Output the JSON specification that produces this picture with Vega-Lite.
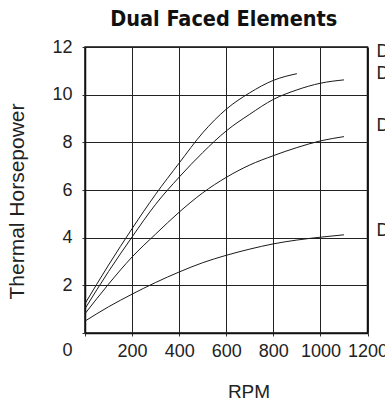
{
  "$schema": "https://vega.github.io/schema/vega-lite/v6.json",
  "autosize": {"type": "none"},
  "padding": {"left": 85, "top": 47, "right": 17.5, "bottom": 65},
  "width": 282.5,
  "height": 286,
  "background": "white",
  "title": {
    "text": "Dual Faced Elements",
    "font": "DejaVu Sans Condensed",
    "fontWeight": "bold",
    "fontSize": 21.5,
    "color": "#111",
    "anchor": "middle",
    "frame": "group",
    "offset": 8,
    "dx": -2.5
  },
  "config": {
    "view": {"stroke": "#111", "strokeWidth": 1.5},
    "axis": {
      "labelFont": "Liberation Sans",
      "titleFont": "Liberation Sans",
      "labelColor": "#222",
      "titleColor": "#222",
      "titleFontWeight": "normal",
      "domainColor": "#111",
      "domainWidth": 1.5,
      "tickColor": "#333",
      "tickSize": 3,
      "gridColor": "#222",
      "gridWidth": 1,
      "labelFlush": false,
      "labelOverlap": false
    }
  },
  "datasets": {
    "curves": [
      {"rpm": 0, "hp": 1.23, "series": "DF-A"},
      {"rpm": 100, "hp": 2.85, "series": "DF-A"},
      {"rpm": 200, "hp": 4.38, "series": "DF-A"},
      {"rpm": 300, "hp": 5.82, "series": "DF-A"},
      {"rpm": 400, "hp": 7.13, "series": "DF-A"},
      {"rpm": 500, "hp": 8.4, "series": "DF-A"},
      {"rpm": 600, "hp": 9.39, "series": "DF-A"},
      {"rpm": 700, "hp": 10.08, "series": "DF-A"},
      {"rpm": 800, "hp": 10.6, "series": "DF-A"},
      {"rpm": 900, "hp": 10.88, "series": "DF-A"},
      {"rpm": 0, "hp": 1.02, "series": "DF-B"},
      {"rpm": 100, "hp": 2.58, "series": "DF-B"},
      {"rpm": 200, "hp": 4.03, "series": "DF-B"},
      {"rpm": 300, "hp": 5.4, "series": "DF-B"},
      {"rpm": 400, "hp": 6.54, "series": "DF-B"},
      {"rpm": 500, "hp": 7.57, "series": "DF-B"},
      {"rpm": 600, "hp": 8.48, "series": "DF-B"},
      {"rpm": 700, "hp": 9.18, "series": "DF-B"},
      {"rpm": 800, "hp": 9.8, "series": "DF-B"},
      {"rpm": 900, "hp": 10.2, "series": "DF-B"},
      {"rpm": 1000, "hp": 10.48, "series": "DF-B"},
      {"rpm": 1100, "hp": 10.62, "series": "DF-B"},
      {"rpm": 0, "hp": 0.81, "series": "DF-C"},
      {"rpm": 100, "hp": 2.05, "series": "DF-C"},
      {"rpm": 200, "hp": 3.19, "series": "DF-C"},
      {"rpm": 300, "hp": 4.15, "series": "DF-C"},
      {"rpm": 400, "hp": 5.07, "series": "DF-C"},
      {"rpm": 500, "hp": 5.88, "series": "DF-C"},
      {"rpm": 600, "hp": 6.53, "series": "DF-C"},
      {"rpm": 700, "hp": 7.05, "series": "DF-C"},
      {"rpm": 800, "hp": 7.44, "series": "DF-C"},
      {"rpm": 900, "hp": 7.78, "series": "DF-C"},
      {"rpm": 1000, "hp": 8.06, "series": "DF-C"},
      {"rpm": 1100, "hp": 8.24, "series": "DF-C"},
      {"rpm": 0, "hp": 0.5, "series": "DF-D"},
      {"rpm": 100, "hp": 1.1, "series": "DF-D"},
      {"rpm": 200, "hp": 1.63, "series": "DF-D"},
      {"rpm": 300, "hp": 2.12, "series": "DF-D"},
      {"rpm": 400, "hp": 2.56, "series": "DF-D"},
      {"rpm": 500, "hp": 2.95, "series": "DF-D"},
      {"rpm": 600, "hp": 3.26, "series": "DF-D"},
      {"rpm": 700, "hp": 3.52, "series": "DF-D"},
      {"rpm": 800, "hp": 3.74, "series": "DF-D"},
      {"rpm": 900, "hp": 3.9, "series": "DF-D"},
      {"rpm": 1000, "hp": 4.02, "series": "DF-D"},
      {"rpm": 1100, "hp": 4.12, "series": "DF-D"}
    ],
    "labels": [
      {"rpm": 1200, "hp": 11.8, "series": "DF-A"},
      {"rpm": 1200, "hp": 10.86, "series": "DF-B"},
      {"rpm": 1200, "hp": 8.68, "series": "DF-C"},
      {"rpm": 1200, "hp": 4.26, "series": "DF-D"}
    ]
  },
  "layer": [
    {
      "data": {"name": "curves"},
      "mark": {"type": "line", "interpolate": "monotone", "color": "#1a1a1a", "strokeWidth": 1},
      "encoding": {
        "x": {
          "field": "rpm",
          "type": "quantitative",
          "scale": {"domain": [0, 1200], "nice": false},
          "axis": {
            "values": [0, 50, 100, 150, 200, 250, 300, 350, 400, 450, 500, 550, 600, 650, 700, 750, 800, 850, 900, 950, 1000, 1050, 1100, 1150, 1200],
            "labelExpr": "(datum.value % 200 == 0 && datum.value > 0) ? datum.label : ''",
            "format": "d",
            "labelFontSize": 18,
            "labelPadding": 6,
            "grid": true,
            "gridOpacity": {"condition": {"test": "datum.value % 200 == 0", "value": 1}, "value": 0},
            "title": "RPM",
            "titleFontSize": 19,
            "titleX": 163.5,
            "titleY": 64,
            "titleBaseline": "alphabetic",
            "titleAlign": "center"
          }
        },
        "y": {
          "field": "hp",
          "type": "quantitative",
          "scale": {"domain": [0, 12], "nice": false},
          "axis": {
            "values": [0, 0.5, 1, 1.5, 2, 2.5, 3, 3.5, 4, 4.5, 5, 5.5, 6, 6.5, 7, 7.5, 8, 8.5, 9, 9.5, 10, 10.5, 11, 11.5, 12],
            "labelExpr": "datum.value % 2 == 0 ? datum.label : ''",
            "labelFontSize": 18,
            "labelPadding": 10,
            "labelOffset": {"condition": {"test": "datum.value == 0", "value": 17}, "value": 0},
            "grid": true,
            "gridOpacity": {"condition": {"test": "datum.value % 2 == 0", "value": 1}, "value": 0},
            "title": "Thermal Horsepower",
            "titleFontSize": 21,
            "titleAngle": 270,
            "titleX": -61.5,
            "titleY": 154,
            "titleBaseline": "alphabetic",
            "titleAlign": "center"
          }
        },
        "detail": {"field": "series", "type": "nominal"}
      }
    },
    {
      "data": {"name": "labels"},
      "mark": {"type": "text", "align": "left", "baseline": "middle", "dx": 9, "font": "Liberation Sans", "fontSize": 18, "color": "#222"},
      "encoding": {
        "x": {"field": "rpm", "type": "quantitative"},
        "y": {"field": "hp", "type": "quantitative"},
        "text": {"field": "series", "type": "nominal"}
      }
    }
  ]
}
